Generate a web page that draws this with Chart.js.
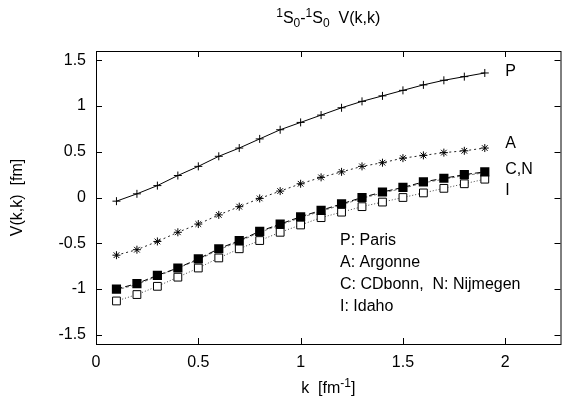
<!DOCTYPE html>
<html lang="en">
<head>
    <meta charset="UTF-8" />
    <title>1S0-1S0 V(k,k)</title>
    <script src="https://cdn.jsdelivr.net/npm/chart.js"></script>
    <style>
        html, body { margin: 0; padding: 0; background: #fff; }
        #wrap { width: 567px; height: 405px; }
    </style>
</head>
<body>
<div id="wrap"><canvas id="vkkChart" width="567" height="405"></canvas></div>

<script>
    // momentum grid (fm^-1)
    const kValues = [0.1, 0.2, 0.3, 0.4, 0.5, 0.6, 0.7, 0.8, 0.9, 1.0,
                     1.1, 1.2, 1.3, 1.4, 1.5, 1.6, 1.7, 1.8, 1.9];

    // V(k,k) in fm
    const parisValues    = [-0.04, 0.04, 0.13, 0.24, 0.34, 0.45, 0.54, 0.64, 0.74, 0.82,
                            0.90, 0.98, 1.05, 1.11, 1.17, 1.23, 1.28, 1.32, 1.36];
    const argonneValues  = [-0.63, -0.57, -0.48, -0.38, -0.29, -0.19, -0.10, -0.01, 0.07, 0.15,
                            0.22, 0.28, 0.34, 0.38, 0.43, 0.46, 0.49, 0.51, 0.54];
    const cdbonnValues   = [-1.00, -0.94, -0.85, -0.77, -0.67, -0.56, -0.47, -0.37, -0.29, -0.21,
                            -0.14, -0.07, 0.00, 0.06, 0.11, 0.17, 0.21, 0.25, 0.28];
    const nijmegenValues = [-1.01, -0.95, -0.86, -0.77, -0.68, -0.57, -0.48, -0.38, -0.30, -0.22,
                            -0.15, -0.08, -0.01, 0.05, 0.10, 0.16, 0.20, 0.24, 0.27];
    const idahoValues    = [-1.13, -1.06, -0.97, -0.87, -0.77, -0.66, -0.56, -0.47, -0.38, -0.30,
                            -0.22, -0.16, -0.10, -0.05, 0.00, 0.05, 0.10, 0.15, 0.20];

    const xTicks = [0, 0.5, 1, 1.5, 2];
    const yTicks = [-1.5, -1, -0.5, 0, 0.5, 1, 1.5];

    // curve labels on the right, and the key text block
    const curveLabels = [
        { text: 'P',   x: 2.0, y: 1.33 },
        { text: 'A',   x: 2.0, y: 0.54 },
        { text: 'C,N', x: 2.0, y: 0.26 },
        { text: 'I',   x: 2.0, y: 0.03 }
    ];
    const keyLines = ['P: Paris', 'A: Argonne', 'C: CDbonn,  N: Nijmegen', 'I: Idaho'];

    const FONT = '"Liberation Sans", Arial, Helvetica, sans-serif';
    const FS = 16;

    function pts(vals) {
        return kValues.map((k, i) => ({ x: k, y: vals[i] }));
    }

    // draws frame, inward ticks on all four sides, titles and text labels
    const decorPlugin = {
        id: 'decor',
        afterDraw(chart) {
            const ctx = chart.ctx;
            const a = chart.chartArea;
            const xs = chart.scales.x, ys = chart.scales.y;
            ctx.save();
            ctx.strokeStyle = '#000';
            ctx.lineWidth = 1;
            ctx.strokeRect(a.left + 0.5, a.top + 0.5, a.right - a.left, a.bottom - a.top);

            ctx.beginPath();
            xTicks.forEach(v => {
                const px = Math.round(xs.getPixelForValue(v)) + 0.5;
                ctx.moveTo(px, a.bottom); ctx.lineTo(px, a.bottom - 6);
                ctx.moveTo(px, a.top);    ctx.lineTo(px, a.top + 6);
            });
            yTicks.forEach(v => {
                const py = Math.round(ys.getPixelForValue(v)) + 0.5;
                ctx.moveTo(a.left, py);  ctx.lineTo(a.left + 6, py);
                ctx.moveTo(a.right, py); ctx.lineTo(a.right - 6, py);
            });
            ctx.stroke();

            ctx.fillStyle = '#000';
            ctx.textBaseline = 'alphabetic';
            ctx.textAlign = 'left';

            const big = FS + 'px ' + FONT, small = '12px ' + FONT;

            // curve labels
            ctx.font = big;
            curveLabels.forEach(l => {
                ctx.fillText(l.text, xs.getPixelForValue(l.x), ys.getPixelForValue(l.y));
            });

            // key text
            keyLines.forEach((t, i) => {
                ctx.fillText(t, 340, 245 + i * 22);
            });

            // title: 1S0-1S0  V(k,k)
            const parts = [
                { t: '1', f: small, dy: -6 },
                { t: 'S', f: big, dy: 0 },
                { t: '0', f: small, dy: 4 },
                { t: '-', f: big, dy: 0 },
                { t: '1', f: small, dy: -6 },
                { t: 'S', f: big, dy: 0 },
                { t: '0', f: small, dy: 4 },
                { t: '  V(k,k)', f: big, dy: 0 }
            ];
            let w = 0;
            parts.forEach(p => { ctx.font = p.f; w += ctx.measureText(p.t).width; });
            let x = (a.left + a.right) / 2 - w / 2;
            parts.forEach(p => {
                ctx.font = p.f;
                ctx.fillText(p.t, x, 23 + p.dy);
                x += ctx.measureText(p.t).width;
            });

            // x title: k  [fm^-1]
            const xparts = [
                { t: 'k  [fm', f: big, dy: 0 },
                { t: '-1', f: small, dy: -6 },
                { t: ']', f: big, dy: 0 }
            ];
            w = 0;
            xparts.forEach(p => { ctx.font = p.f; w += ctx.measureText(p.t).width; });
            x = (a.left + a.right) / 2 - w / 2;
            xparts.forEach(p => {
                ctx.font = p.f;
                ctx.fillText(p.t, x, 393 + p.dy);
                x += ctx.measureText(p.t).width;
            });

            // y title
            ctx.font = big;
            ctx.translate(22, (a.top + a.bottom) / 2);
            ctx.rotate(-Math.PI / 2);
            ctx.textAlign = 'center';
            ctx.fillText('V(k,k)  [fm]', 0, 0);
            ctx.restore();
        }
    };

    const ctx = document.getElementById('vkkChart').getContext('2d');
    const chart = new Chart(ctx, {
        type: 'line',
        data: {
            datasets: [
                {
                    label: 'Paris',
                    data: pts(parisValues),
                    borderColor: '#000',
                    borderWidth: 1,
                    pointStyle: 'cross',
                    pointRadius: 4,
                    pointBorderColor: '#000',
                    pointBorderWidth: 1
                },
                {
                    label: 'Argonne',
                    data: pts(argonneValues),
                    borderColor: '#222',
                    borderWidth: 1,
                    borderDash: [2, 3],
                    pointStyle: 'star',
                    pointRadius: 4,
                    pointBorderColor: '#000',
                    pointBorderWidth: 1
                },
                {
                    label: 'CDbonn',
                    data: pts(cdbonnValues),
                    borderColor: '#000',
                    borderWidth: 1,
                    borderDash: [6, 3],
                    pointStyle: 'rect',
                    pointRadius: 6.5,
                    pointBackgroundColor: '#000',
                    pointBorderColor: '#000',
                    pointBorderWidth: 0
                },
                {
                    label: 'Nijmegen',
                    data: pts(nijmegenValues),
                    borderColor: '#777',
                    borderWidth: 1,
                    borderDash: [3, 2],
                    pointStyle: 'crossRot',
                    pointRadius: 2,
                    pointBorderColor: '#666',
                    pointBorderWidth: 1
                },
                {
                    label: 'Idaho',
                    data: pts(idahoValues),
                    borderColor: '#444',
                    borderWidth: 1,
                    borderDash: [1, 2],
                    pointStyle: 'rect',
                    pointRadius: 5.5,
                    pointBackgroundColor: '#fff',
                    pointBorderColor: '#000',
                    pointBorderWidth: 1
                }
            ]
        },
        options: {
            responsive: false,
            animation: false,
            layout: { padding: { top: 51, right: 4, left: 0, bottom: 0 } },
            plugins: {
                legend: { display: false },
                title: { display: false },
                tooltip: { enabled: false }
            },
            elements: { line: { tension: 0, fill: false } },
            scales: {
                x: {
                    type: 'linear',
                    min: 0,
                    max: 2.27,
                    afterBuildTicks: s => { s.ticks = xTicks.map(v => ({ value: v })); },
                    afterFit: s => { s.height = 61; },
                    grid: { display: false, drawTicks: false },
                    border: { display: false },
                    ticks: {
                        color: '#000',
                        font: { family: FONT, size: FS },
                        padding: 9,
                        maxRotation: 0,
                        callback: v => String(v)
                    }
                },
                y: {
                    min: -1.6,
                    max: 1.6,
                    afterBuildTicks: s => { s.ticks = yTicks.map(v => ({ value: v })); },
                    afterFit: s => { s.width = 96; },
                    grid: { display: false, drawTicks: false },
                    border: { display: false },
                    ticks: {
                        color: '#000',
                        font: { family: FONT, size: FS },
                        padding: 10,
                        callback: v => String(v)
                    }
                }
            }
        },
        plugins: [decorPlugin]
    });
</script>
</body>
</html>
